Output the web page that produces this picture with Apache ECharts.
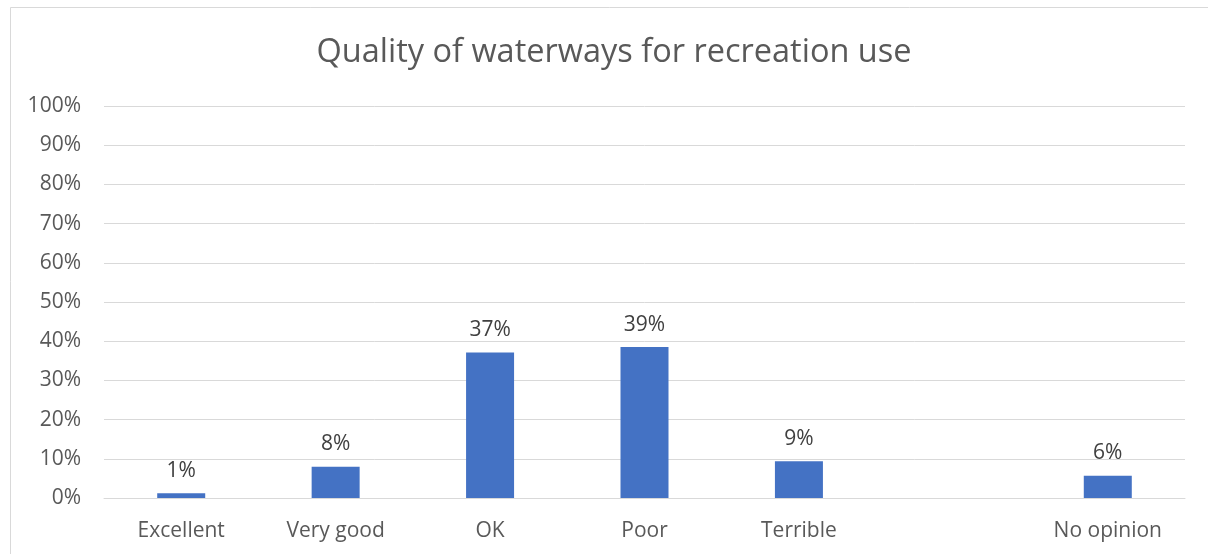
<!DOCTYPE html>
<html>
<head>
<meta charset="utf-8">
<script src="https://cdn.jsdelivr.net/npm/echarts@6/dist/echarts.min.js"></script>
<style>
html,body{margin:0;padding:0;background:#fff;}
#chart{width:1208px;height:554px;}
</style>
</head>
<body>
<div id="chart"></div>
<script>
const titleText = 'Quality of waterways for recreation use';
const categories = ['Excellent', 'Very good', 'OK', 'Poor', 'Terrible', '', 'No opinion'];
const values = [1.2, 8.0, 37.1, 38.5, 9.4, null, 5.7];

const chart = echarts.init(document.getElementById('chart'), null, {renderer: 'canvas'});
const font = '"Open Sans", "Noto Sans", sans-serif';
chart.setOption({
  backgroundColor: '#ffffff',
  animation: false,
  title: {
    text: titleText,
    left: 609,
    top: 31,
    textAlign: 'center',
    textStyle: {fontFamily: font, fontSize: 32.5, fontWeight: 'normal', color: '#595959'}
  },
  graphic: [{
    type: 'rect',
    shape: {x: 10.5, y: 7.5, width: 1300, height: 700},
    style: {fill: 'none', stroke: '#d9d9d9', lineWidth: 1},
    silent: true,
    z: -1
  }],
  grid: {left: 104, right: 23, top: 106, bottom: 56, containLabel: false},
  xAxis: {
    type: 'category',
    data: categories,
    axisTick: {show: false},
    axisLine: {show: true, lineStyle: {color: '#d9d9d9', width: 1}},
    axisLabel: {fontFamily: font, fontSize: 21, color: '#595959', margin: 23, interval: 0}
  },
  yAxis: {
    type: 'value',
    min: 0, max: 100, interval: 10,
    axisLine: {show: false},
    axisTick: {show: false},
    splitLine: {lineStyle: {color: '#d9d9d9', width: 1}},
    axisLabel: {fontFamily: font, fontSize: 21, color: '#595959', margin: 23, formatter: '{value}%'}
  },
  series: [{
    type: 'bar',
    data: values,
    barWidth: 48,
    itemStyle: {color: '#4472c4'},
    label: {
      show: true,
      position: 'top',
      distance: 12,
      fontFamily: font, fontSize: 21, color: '#404040',
      formatter: p => Math.round(p.value) + '%'
    }
  }]
});
</script>
</body>
</html>
